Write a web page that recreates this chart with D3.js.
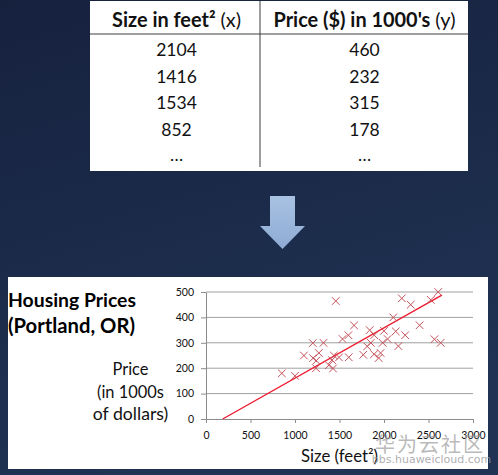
<!DOCTYPE html>
<html>
<head>
<meta charset="utf-8">
<script src="https://cdn.jsdelivr.net/npm/d3@7"></script>
<style>
  html, body { margin: 0; padding: 0; background: #1b2a4a; }
  svg { display: block; }
</style>
</head>
<body>
<script>
// ---------- data ----------
const tableHeaders = ["Size in feet²", "Price ($) in 1000's"];
const tableHeaderVars = ["(x)", "(y)"];
const tableSizes = ["2104", "1416", "1534", "852", "…"];
const tablePrices = ["460", "232", "315", "178", "…"];

const sizes = [2104, 1600, 2400, 1416, 1985, 1534, 1427, 1380, 1494, 1940,
               2000, 1890, 1268, 2300, 1320, 1236, 2609, 1767, 1888, 1604,
               1962, 1100, 1458, 2526, 2200, 2637, 1839, 1000, 2040, 1811,
               1437, 1239, 2132, 2162, 1664, 2238, 2567, 1200, 852, 1852, 1203];
const prices = [399.9, 329.9, 369.0, 232.0, 299.9, 314.9, 199.0, 212.0, 242.5, 240.0,
                347.0, 330.0, 259.9, 449.9, 299.9, 199.9, 500.0, 252.9, 255.0, 242.9,
                259.9, 249.9, 464.5, 469.0, 475.0, 299.9, 349.9, 169.9, 314.9, 285.9,
                249.9, 229.9, 345.0, 287.0, 368.5, 329.9, 314.0, 299.0, 179.9, 299.9, 239.5];

const fitLineX = [188, 2650];
const fitLineY = [0, 488];

const xTicks = [0, 500, 1000, 1500, 2000, 2500, 3000];
const yTicks = [0, 100, 200, 300, 400, 500];

const chartTitle = ["Housing Prices", "(Portland, OR)"];
const yLabelLines = ["Price", "(in 1000s", "of dollars)"];
const xLabel = "Size (feet²)";

// ---------- layout ----------
const W = 498, H = 475;
const FONT = "Lato, 'Open Sans', sans-serif";

const svg = d3.select("body").append("svg")
  .attr("width", W).attr("height", H);

const defs = svg.append("defs");
const bg = defs.append("linearGradient").attr("id", "bg")
  .attr("x1", 0).attr("y1", 0).attr("x2", 0.3).attr("y2", 1);
bg.append("stop").attr("offset", "0%").attr("stop-color", "#16213e");
bg.append("stop").attr("offset", "100%").attr("stop-color", "#203354");
const ag = defs.append("linearGradient").attr("id", "arrowg")
  .attr("x1", 0).attr("y1", 0).attr("x2", 0).attr("y2", 1);
ag.append("stop").attr("offset", "0%").attr("stop-color", "#a9c2e3");
ag.append("stop").attr("offset", "100%").attr("stop-color", "#8eabd3");

svg.append("rect").attr("width", W).attr("height", H).attr("fill", "url(#bg)");

// fit helper: scale font-size so text gets the target width
function fit(sel, w) {
  sel.each(function () {
    const cur = this.getComputedTextLength();
    const fs = parseFloat(d3.select(this).attr("font-size"));
    if (cur > 0) d3.select(this).attr("font-size", fs * w / cur);
  });
}

// ---------- table ----------
const table = svg.append("g");
table.append("rect").attr("x", 90).attr("y", 1).attr("width", 378).attr("height", 170)
  .attr("fill", "#ffffff");
table.append("line").attr("x1", 90).attr("x2", 468).attr("y1", 34).attr("y2", 34)
  .attr("stroke", "#7f7f7f").attr("stroke-width", 1.5);
table.append("line").attr("x1", 260).attr("x2", 260).attr("y1", 1).attr("y2", 167)
  .attr("stroke", "#3a3a3a").attr("stroke-width", 1);

const colX = [176.5, 364.5];
const colW = [129, 182];
tableHeaders.forEach((h, i) => {
  const t = table.append("text")
    .attr("x", colX[i]).attr("y", 27)
    .attr("text-anchor", "middle")
    .attr("font-family", FONT).attr("font-size", 19)
    .attr("fill", "#111");
  t.append("tspan").attr("font-weight", "bold").text(h + " ");
  t.append("tspan").attr("font-weight", "normal").text(tableHeaderVars[i]);
  fit(t, colW[i]);
});

const rowY = d3.scaleLinear().domain([0, 1]).range([56, 82.5]);
[tableSizes, tablePrices].forEach((col, ci) => {
  table.selectAll(null).data(col).enter().append("text")
    .attr("x", colX[ci]).attr("y", (d, i) => rowY(i) - (d === "…" ? 1 : 0))
    .attr("text-anchor", "middle")
    .attr("font-family", FONT).attr("font-size", 17.5)
    .attr("fill", "#111")
    .text(d => d);
});

// ---------- arrow ----------
svg.append("path")
  .attr("d", "M270,196 L295,196 L295,226 L305,226 L282.5,249 L260,226 L270,226 Z")
  .attr("fill", "url(#arrowg)");

// ---------- chart panel ----------
svg.append("rect").attr("x", 8).attr("y", 277).attr("width", 480).attr("height", 192)
  .attr("fill", "#ffffff");

const x = d3.scaleLinear().domain([0, 3000]).range([206, 473]);
const y = d3.scaleLinear().domain([0, 500]).range([419, 292]);

// gridlines
svg.append("g").selectAll("line").data(yTicks.filter(d => d > 0)).enter().append("line")
  .attr("x1", x(0)).attr("x2", x(3000))
  .attr("y1", d => y(d)).attr("y2", d => y(d))
  .attr("stroke", "#a0a0a0").attr("stroke-width", 1);

// y axis
const yAxis = svg.append("g").attr("transform", `translate(${x(0)},0)`)
  .call(d3.axisLeft(y).tickValues(yTicks).tickFormat(d3.format("d"))
    .tickSize(5).tickPadding(7).tickSizeOuter(0));
// x axis
const xAxis = svg.append("g").attr("transform", `translate(0,${y(0)})`)
  .call(d3.axisBottom(x).tickValues(xTicks).tickFormat(d3.format("d"))
    .tickSize(4).tickPadding(9).tickSizeOuter(0));
[yAxis, xAxis].forEach(a => {
  a.select(".domain").attr("stroke", "#8c8c8c");
  a.selectAll(".tick line").attr("stroke", "#8c8c8c");
  a.selectAll(".tick text").attr("font-family", FONT).attr("font-size", 10.5)
    .attr("fill", "#111");
});

// regression line
svg.append("line")
  .attr("x1", x(fitLineX[0])).attr("y1", y(fitLineY[0]))
  .attr("x2", x(fitLineX[1])).attr("y2", y(fitLineY[1]))
  .attr("stroke", "#ee1a2e").attr("stroke-width", 1.4);

// crosses
const pts = sizes.map((s, i) => ({ s, p: prices[i] }));
const r = 3.8;
svg.append("g").selectAll("path").data(pts).enter().append("path")
  .attr("d", d => {
    const cx = x(d.s), cy = y(d.p);
    return `M${cx - r},${cy - r}L${cx + r},${cy + r}M${cx - r},${cy + r}L${cx + r},${cy - r}`;
  })
  .attr("stroke", "#c4505a").attr("stroke-width", 1).attr("fill", "none");

// title
chartTitle.forEach((t, i) => {
  const el = svg.append("text").attr("x", 8).attr("y", 307 + i * 26)
    .attr("font-family", FONT).attr("font-weight", "bold").attr("font-size", 17)
    .attr("fill", "#000").text(t);
  fit(el, i === 0 ? 128 : 127);
});

// y label
const yLabW = [36, 67, 75.5];
yLabelLines.forEach((t, i) => {
  const el = svg.append("text").attr("x", 130.5).attr("y", [375, 398, 420][i])
    .attr("text-anchor", "middle")
    .attr("font-family", FONT).attr("font-size", 16)
    .attr("fill", "#111").text(t);
  fit(el, yLabW[i]);
});

// x label
const xl = svg.append("text").attr("x", 339.5).attr("y", 462)
  .attr("text-anchor", "middle")
  .attr("font-family", FONT).attr("font-size", 16)
  .attr("fill", "#111").text(xLabel);
fit(xl, 77);

// watermark (overlaps the axis labels, as in the reference)
svg.append("text").attr("x", 430).attr("y", 452)
  .attr("text-anchor", "middle")
  .attr("font-family", "'Noto Sans CJK SC', sans-serif").attr("font-size", 20)
  .attr("letter-spacing", 2)
  .attr("fill", "#9a9a9a").attr("fill-opacity", 0.7).text("华为云社区");
svg.append("text").attr("x", 431.5).attr("y", 463)
  .attr("text-anchor", "middle")
  .attr("font-family", "'DejaVu Sans', sans-serif").attr("font-size", 11)
  .attr("fill", "#9a9a9a").attr("fill-opacity", 0.8).text("bbs.huaweicloud.com");
</script>
</body>
</html>
